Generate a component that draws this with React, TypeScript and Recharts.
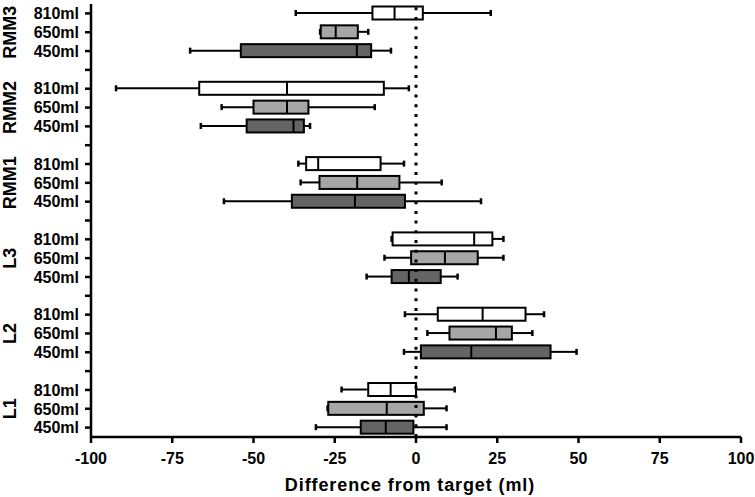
import React from "react";
import { ComposedChart, Bar, XAxis, YAxis, ReferenceLine } from "recharts";

const groups = ["RMM3", "RMM2", "RMM1", "L3", "L2", "L1"];
const doses = ["810ml", "650ml", "450ml"];
const doseFills = ["#ffffff", "#a6a6a6", "#646464"];
const xTicks = [-100, -75, -50, -25, 0, 25, 50, 75, 100];

// rows top to bottom: each group has 810ml, 650ml, 450ml
const mins = [-37.0, -29.5, -69.5, -92.3, -59.8, -66.2, -36.2, -35.5, -59.1, -7.5, -9.7, -15.2, -3.4, 3.5, -3.7, -22.9, -27.2, -30.8];
const q1s = [-13.4, -29.3, -53.9, -66.7, -50.0, -52.1, -33.8, -29.7, -38.2, -7.2, -1.5, -7.5, 6.7, 10.3, 1.5, -14.7, -27.0, -17.0];
const medians = [-6.6, -24.7, -18.2, -39.7, -39.7, -37.7, -30.1, -18.1, -18.8, 17.9, 8.9, -2.2, 20.5, 24.6, 17.0, -7.8, -9.0, -9.3];
const q3s = [2.1, -17.9, -13.8, -9.9, -33.1, -34.5, -10.9, -5.1, -3.4, 23.5, 19.0, 7.6, 33.7, 29.5, 41.4, 0.0, 2.4, -0.8];
const maxs = [23.0, -14.7, -7.7, -2.2, -12.7, -32.6, -3.7, 7.9, 20.0, 26.9, 26.9, 12.8, 39.4, 35.8, 49.4, 11.9, 9.4, 9.4];

type Row = {
  key: string;
  group?: string;
  dose?: string;
  fill?: string;
  min?: number;
  q1?: number;
  median?: number;
  q3?: number;
  max?: number;
};

const rows: Row[] = [];
groups.forEach((g, gi) => {
  doses.forEach((d, di) => {
    const i = gi * 3 + di;
    rows.push({
      key: `${g}-${d}`,
      group: g,
      dose: d,
      fill: doseFills[di],
      min: mins[i],
      q1: q1s[i],
      median: medians[i],
      q3: q3s[i],
      max: maxs[i],
    });
  });
  if (gi < groups.length - 1) rows.push({ key: `gap-${gi}` });
});

const FONT = "'Liberation Sans', Arial, Helvetica, sans-serif";

const BoxShape = (props: any) => {
  const { x, y, width, height, payload } = props;
  if (payload == null || payload.min == null) return null;
  const { min, q1, median, q3, max, fill } = payload;
  const px = (v: number) => x + ((v - min) / (max - min)) * width;
  const cy = y + height / 2;
  const bh = 13;
  const cap = 3;
  return (
    <g stroke="#000" strokeWidth={2}>
      <line x1={px(min)} y1={cy} x2={px(q1)} y2={cy} />
      <line x1={px(q3)} y1={cy} x2={px(max)} y2={cy} />
      <line x1={px(min)} y1={cy - cap} x2={px(min)} y2={cy + cap} strokeWidth={2.5} />
      <line x1={px(max)} y1={cy - cap} x2={px(max)} y2={cy + cap} strokeWidth={2.5} />
      <rect x={px(q1)} y={cy - bh / 2} width={px(q3) - px(q1)} height={bh} fill={fill} />
      <line x1={px(median)} y1={cy - bh / 2} x2={px(median)} y2={cy + bh / 2} />
    </g>
  );
};

const YTick = (props: any) => {
  const { x, y, payload } = props;
  const row = rows.find((r) => r.key === payload.value);
  if (!row || !row.dose) return null;
  return (
    <g>
      <text x={x} y={y} dy="0.36em" textAnchor="end" fontSize={16} fontWeight="bold" fill="#000" fontFamily={FONT}>
        {row.dose}
      </text>
      {row.dose === "650ml" && (
        <text transform={`translate(10, ${y}) rotate(-90)`} dy="0.36em" textAnchor="middle" fontSize={18} fontWeight="bold" fill="#000" fontFamily={FONT}>
          {row.group}
        </text>
      )}
    </g>
  );
};

export default function App() {
  return (
    <div style={{ position: "absolute", left: 0, top: 0, background: "#fff" }}>
      <ComposedChart
        width={755}
        height={497}
        data={rows}
        layout="vertical"
        margin={{ top: 4, right: 14, bottom: 0, left: 0 }}
        style={{ fontFamily: FONT }}
      >
        <XAxis
          type="number"
          domain={[-100, 100]}
          ticks={xTicks}
          allowDataOverflow
          height={60}
          stroke="#000"
          strokeWidth={2.5}
          tickSize={6}
          tickMargin={10}
          tick={{ fontSize: 16, fontWeight: "bold", fill: "#000" }}
          label={{
            value: "Difference from target (ml)",
            position: "insideBottom",
            offset: 6,
            fontSize: 18,
            fontWeight: "bold",
            fill: "#000",
            letterSpacing: 0.9,
            dx: -6,
          }}
        />
        <YAxis
          type="category"
          dataKey="key"
          width={91}
          interval={0}
          stroke="#000"
          strokeWidth={2.5}
          tickSize={6}
          tickMargin={6}
          tick={<YTick />}
        />
        <Bar
          dataKey={(d: Row) => (d.min == null ? null : [d.min, d.max])}
          barSize={14}
          shape={<BoxShape />}
          isAnimationActive={false}
        />
        <ReferenceLine x={0} stroke="#000" strokeWidth={3} strokeDasharray="3 6.7" />
      </ComposedChart>
    </div>
  );
}
